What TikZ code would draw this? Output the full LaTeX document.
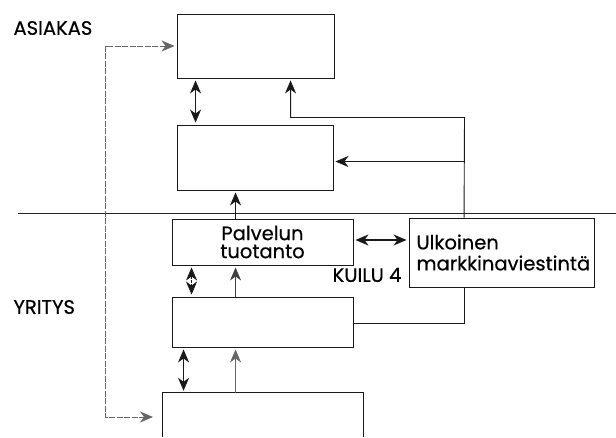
\documentclass[tikz,border=0pt]{standalone}
\usepackage{fontspec}
\setmainfont{Poppins}[FakeBold=0.5]
\usetikzlibrary{arrows.meta}
\begin{document}
\begin{tikzpicture}[x=1pt,y=-1pt,
  box/.style={draw=black!90, line width=0.9pt, inner sep=0pt},
  conn/.style={draw=black!90, line width=0.9pt},
  hd/.tip={Stealth[length=13pt,width=11pt,inset=4pt]},
  tip/.style={-hd, shorten >=2pt},
  tips/.style={hd-hd, shorten >=2pt, shorten <=2pt},
  dotline/.style={draw=black!60, line width=0.8pt, dash pattern=on 6pt off 1.5pt},
  lbl/.style={font=\fontsize{19.5}{21}\selectfont, text=black}
]
\useasboundingbox (0,0) rectangle (616,437);

% customer / company divider
\draw[draw=black!85, line width=0.9pt] (18,213.5) -- (616,213.5);

% boxes
\node[box, minimum width=157pt, minimum height=64pt] (b1) at (255.5,46) {};
\node[box, minimum width=156pt, minimum height=65pt] (b2) at (255,157.5) {};
\node[box, minimum width=181pt, minimum height=46pt, lbl, align=center] (b3) at (262.5,242)
  {Palvelun\\[-3pt]tuotanto};
\node[box, minimum width=185pt, minimum height=69pt, lbl, align=left, text width=170pt] (b4) at (501.5,252.5)
  {Ulkoinen\\markkinaviestintä};
\node[box, minimum width=181pt, minimum height=50pt] (b5) at (262.5,322) {};
% bottom box, open towards the lower edge
\node[inner sep=0pt, minimum width=200pt, minimum height=44pt] (b6) at (263,415) {};
\draw[box] (b6.south west) -- (b6.north west) -- (b6.north east) -- (b6.south east);

% labels
\node[lbl, anchor=west] (asiakas) at (10,28) {ASIAKAS};
\node[lbl, anchor=west] (yritys) at (10,307) {YRITYS};
\node[lbl] (kuilu) at (367,275) {KUILU 4};

% dashed link along the left side
\coordinate (d1) at (105.5,46);
\coordinate (d2) at (105.5,417);
\coordinate (d3) at (153,417);
\draw[dotline, hd-hd, shorten <=2pt] (b1.west) -- (d1) -- (d2) -- (d3);

% arrows between the stacked boxes
\draw[conn, tips] ([xshift=19pt]b1.south west) -- ([xshift=19pt]b2.north west);
\draw[conn, tip] ([xshift=59pt]b2.south west |- b3.north) -- ([xshift=59pt]b2.south west);
\draw[conn, tips, line width=0.7pt, dash pattern=on 3pt off 1pt] ([xshift=20pt]b3.south west) -- ([xshift=20pt]b5.north west);
\draw[conn, tip, draw=black!75] ([xshift=64pt]b5.north west) -- ([xshift=64pt]b3.south west);
\draw[conn, tips, line width=1.1pt] ([xshift=12pt]b5.south west) -- ([xshift=12pt]b5.south west |- b6.north);
\draw[conn, tip, draw=black!60] ([xshift=64pt]b5.south west |- b6.north) -- ([xshift=64pt]b5.south west);

% communication links
\draw[conn, tips, line width=1.1pt] (b3.east |- 0,240) -- (b4.west |- 0,240);
\coordinate (j1) at (464.5,117.5);
\coordinate (j2) at (464.5,161.5);
\draw[conn, tip] ([xshift=55.5pt]b4.north west) -- (j1) -| ([xshift=114pt]b1.south west);
\draw[conn, tip] (j2) -- (j2 -| b2.east);
\draw[conn] (b5.east |- 0,323.5) -| ([xshift=55.5pt]b4.south west);
\end{tikzpicture}
\end{document}
